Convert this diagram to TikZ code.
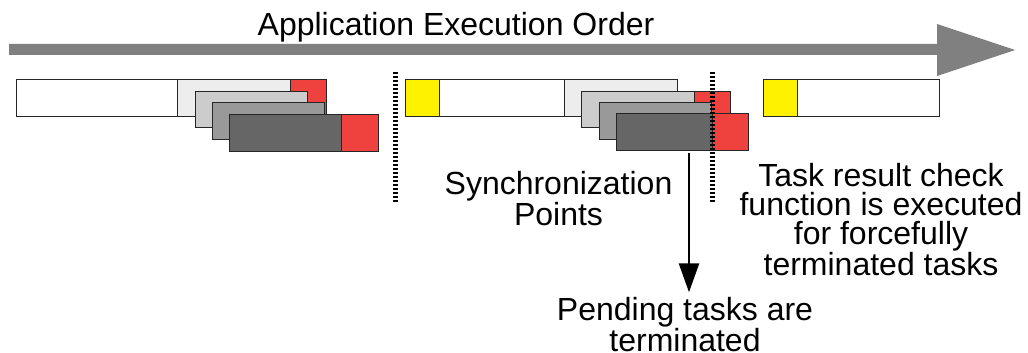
\documentclass[tikz,border=0pt]{standalone}
\usepackage{fontspec}
\setmainfont{Liberation Sans}
\usetikzlibrary{arrows.meta}
\definecolor{redbox}{HTML}{EF413D}
\definecolor{yellowbox}{HTML}{FFF200}
\definecolor{orderarrow}{HTML}{808080}
\tikzset{
  box/.style={draw=black!85, line width=0.9pt, anchor=north west, inner sep=0pt, minimum height=36.5pt, fill=#1},
  sync/.style={line width=5pt, dash pattern=on 2.2pt off 1.8pt},
  lbl/.style={font=\fontsize{32}{29}\selectfont, align=center, anchor=base, inner sep=0pt}
}
\begin{document}
\begin{tikzpicture}[x=1pt,y=-1pt]
\useasboundingbox (0,0) rectangle (1028,353);
\fill[orderarrow] (9,44) -- (937,44) -- (937,24) -- (1015,50) -- (937,76) -- (937,55) -- (9,55) -- cycle;
\node[lbl] (order) at (456,36) {Application Execution Order};
\node[box=white, minimum width=161pt] (w1) at (16,79) {};
\node[box=black!7, minimum width=113pt] (g1a) at (177,79) {};
\node[box=redbox, minimum width=36pt] (r1a) at (290,79) {};
\node[box=black!20, minimum width=112.5pt] (g1b) at (194.7,90.6) {};
\node[box=black!40, minimum width=112.3pt] (g1c) at (212,102.3) {};
\node[box=black!60, minimum width=112pt] (g1d) at (229.3,114) {};
\node[box=redbox, minimum width=37pt] (r1d) at (341.3,114) {};
\node[box=yellowbox, minimum width=34.3pt] (y2) at (405,79) {};
\node[box=white, minimum width=124.4pt] (w2) at (439.3,79) {};
\node[box=black!7, minimum width=113pt] (g2a) at (563.7,79) {};
\node[box=black!20, minimum width=113pt] (g2b) at (581.3,90.7) {};
\node[box=redbox, minimum width=35.7pt] (r2b) at (694.3,90.7) {};
\node[box=black!40, minimum width=112.3pt] (g2c) at (598.7,102.3) {};
\node[box=black!60, minimum width=95.7pt] (g2d) at (616,113.3) {};
\node[box=redbox, minimum width=36pt] (r2d) at (711.7,113.3) {};
\node[box=yellowbox, minimum width=34.3pt] (y3) at (763,79) {};
\node[box=white, minimum width=142pt] (w3) at (797.3,79) {};
\coordinate (s1a) at (395,72);
\coordinate (s1b) at (395,203);
\coordinate (s2a) at (712,72);
\coordinate (s2b) at (712,203);
\draw[sync] (s1a) -- (s1b);
\draw[sync] (s2a) -- (s2b);
\node[lbl] (syncpts) at (558.5,225) {Synchronization\\Points};
\node[lbl] (check) at (881,275) {Task result check\\function is executed\\for forcefully\\terminated tasks};
\node[lbl] (pending) at (685,351.5) {Pending tasks are\\terminated};
\coordinate (kill) at (689,152.7);
\draw[line width=2.6pt, -{Triangle[width=20pt,length=29pt]}, shorten >=5pt] (kill) -- (kill |- pending.north);
\end{tikzpicture}
\end{document}
